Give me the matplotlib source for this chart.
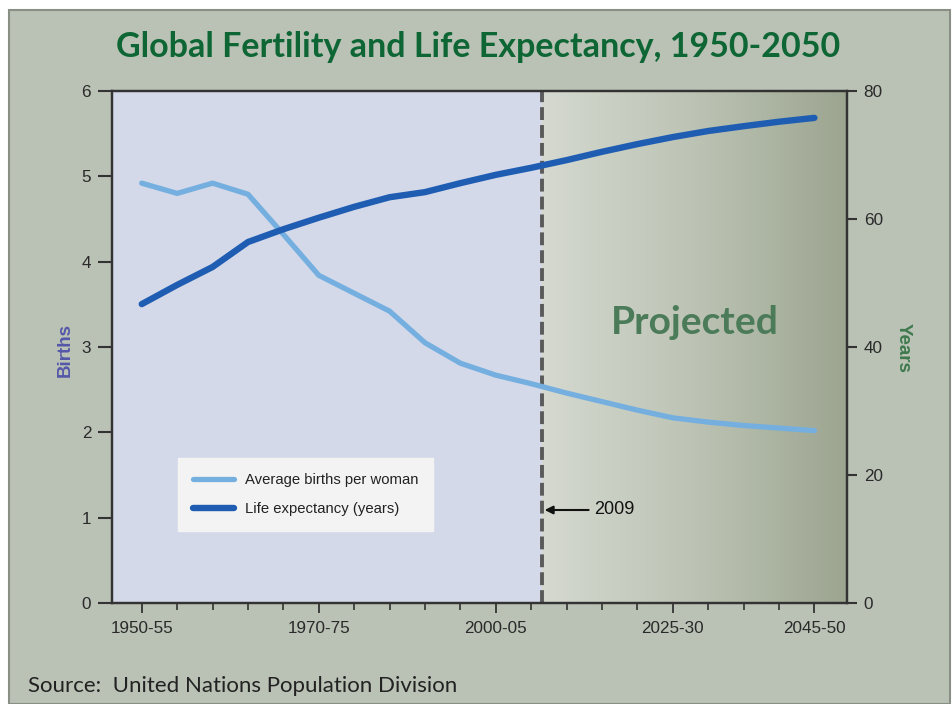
import numpy as np
import matplotlib
matplotlib.use("Agg")
import matplotlib.pyplot as plt
from matplotlib.colors import LinearSegmentedColormap
from matplotlib.patches import Rectangle

# ---------------- data ----------------
period_start = [1950, 1955, 1960, 1965, 1970, 1975, 1980, 1985, 1990, 1995,
                2000, 2005, 2010, 2015, 2020, 2025, 2030, 2035, 2040, 2045]
births = [4.92, 4.80, 4.92, 4.79, 4.32, 3.84, 3.63, 3.42, 3.05, 2.81,
          2.67, 2.57, 2.46, 2.36, 2.26, 2.17, 2.12, 2.08, 2.05, 2.02]
life_exp = [46.7, 49.7, 52.5, 56.4, 58.4, 60.2, 61.9, 63.4, 64.2, 65.6,
            66.9, 68.0, 69.2, 70.5, 71.7, 72.8, 73.75, 74.5, 75.2, 75.8]
label_starts = [1950, 1975, 2000, 2025, 2045]
tick_labels = ["1950-55", "1970-75", "2000-05", "2025-30", "2045-50"]
births_ticks = [0, 1, 2, 3, 4, 5, 6]
years_ticks = [0, 20, 40, 60, 80]
proj_year = 2009

x = [s + 2.5 for s in period_start]
xt = [s + 2.5 for s in label_starts]

# ---------------- figure ----------------
W, H = 953, 704
fig = plt.figure(figsize=(W / 100, H / 100), dpi=100, facecolor="white")
panel = Rectangle((9 / W, 0), (950 - 9) / W, (H - 10) / H, transform=fig.transFigure,
                  facecolor="#bac1b5", edgecolor="#8a8f86", linewidth=1.5, zorder=-10)
fig.patches.append(panel)

ax = fig.add_axes([112 / W, 1 - 603 / H, (847 - 112) / W, (603 - 91) / H])
ax.set_facecolor("#d3d9e8")

# projected gradient
cmap = LinearSegmentedColormap.from_list("proj", ["#d5d9d0", "#bcc3b4", "#9ca590"])
grad = np.linspace(0, 1, 256).reshape(1, -1)
ax.imshow(grad, cmap=cmap, aspect="auto", extent=[proj_year, 2052.1, 0, 6],
          zorder=0, interpolation="bicubic")
ax.set_xlim(1948.3, 2052.1)
ax.set_ylim(0, 6)

ax.axvline(proj_year, color="#5a5a5a", lw=2.8, dashes=(3.3, 1.3), zorder=2)

l1, = ax.plot(x, births, color="#74afe0", lw=3.8, solid_capstyle="round",
              solid_joinstyle="round", zorder=3, label="Average births per woman")

ax2 = ax.twinx()
ax2.set_ylim(0, 80)
l2, = ax2.plot(x, life_exp, color="#1f5db3", lw=4.6, solid_capstyle="round",
               solid_joinstyle="round", zorder=3, label="Life expectancy (years)")

# ticks
ax.set_yticks(births_ticks)
ax2.set_yticks(years_ticks)
ax.set_xticks(xt)
ax.set_xticklabels(tick_labels)
ax.set_xticks(x, minor=True)
for lab in ax.get_xticklabels() + ax.get_yticklabels() + ax2.get_yticklabels():
    lab.set_fontfamily("Liberation Sans")
    lab.set_fontsize(12.3)
    lab.set_color("#2a2a2a")
ax.tick_params(axis="y", direction="out", length=10, width=1.5, color="#333333", pad=5)
ax2.tick_params(axis="y", direction="out", length=7, width=1.5, color="#333333", pad=5)
ax.tick_params(axis="x", which="major", direction="out", length=7, width=1.3, color="#333333", pad=6)
ax.tick_params(axis="x", which="minor", direction="out", length=5, width=1.2, color="#333333")

for a in (ax, ax2):
    for sp in a.spines.values():
        sp.set_color("#333333")
        sp.set_linewidth(1.6)

# legend
leg = ax2.legend(handles=[l1, l2], loc="upper left", bbox_to_anchor=(0.0898, 0.283),
                 borderaxespad=0, frameon=True, fancybox=False, framealpha=1,
                 facecolor="#f3f3f3", edgecolor="#f3f3f3",
                 prop=dict(family="Liberation Sans", size=10.7),
                 handlelength=2.8, handletextpad=0.7, labelspacing=1.0, borderpad=1.0)
for t in leg.get_texts():
    t.set_color("#222222")

# annotation 2009
ax.annotate("2009", xy=(proj_year + 0.4, (603 - 510) / 512 * 6),
            xytext=(2016.4, (603 - 510) / 512 * 6),
            ha="left", va="center", fontsize=13, family="Liberation Sans", color="#111111",
            arrowprops=dict(arrowstyle="-|>", color="#111111", lw=1.5,
                            mutation_scale=12, shrinkA=2, shrinkB=0), zorder=5)

# Projected text
ax.text(2030.6, 3.29, "Projected", ha="center", va="center", fontsize=28,
        fontweight="bold", family="Lato", color="#4b7b58", zorder=4)

# titles / labels
fig.text(478 / W, 1 - 47 / H, "Global Fertility and Life Expectancy, 1950-2050",
         ha="center", va="center", fontsize=24.5, fontweight="bold", family="Lato",
         color="#0d6634")
fig.text(65 / W, 1 - 350 / H, "Births", rotation=90, ha="center", va="center",
         fontsize=13.5, fontweight="bold", family="Liberation Sans", color="#5558a8")
fig.text(903 / W, 1 - 348 / H, "Years", rotation=270, ha="center", va="center",
         fontsize=13.5, fontweight="bold", family="Liberation Sans", color="#3f7a4e")
fig.text(28 / W, 1 - 686 / H, "Source:  United Nations Population Division",
         ha="left", va="center", fontsize=16, family="Lato", color="#222222")

fig.savefig("out.png", dpi=100, facecolor=fig.get_facecolor())
